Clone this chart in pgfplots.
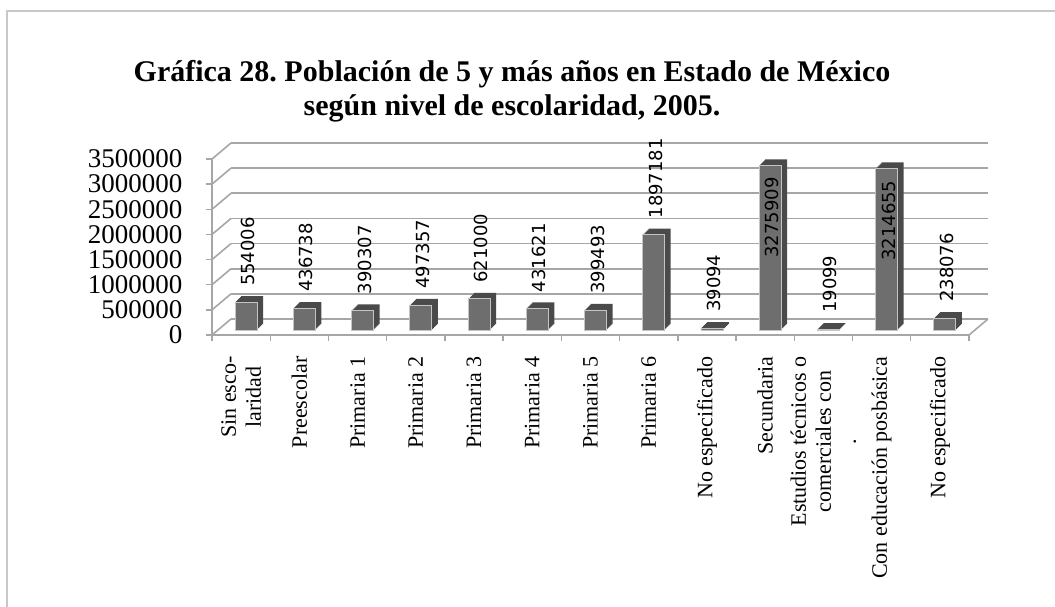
\documentclass[border=0pt]{standalone}
\usepackage{pgfplots}
\usepackage{pgfplotstable}
\pgfplotsset{compat=1.18}
\usepackage{fontspec}
\setmainfont{Liberation Serif}
\newfontfamily\labfont{DejaVu Sans}
\definecolor{frontc}{HTML}{6E6E6E}
\definecolor{sidec}{HTML}{4A4A4A}
\definecolor{edgec}{HTML}{C4C4C4}
\definecolor{gridc}{HTML}{A6A6A6}
\definecolor{framec}{HTML}{C8C8C8}
\pgfplotstableread{
x y
0.5 554006
1.5 436738
2.5 390307
3.5 497357
4.5 621000
5.5 431621
6.5 399493
7.5 1897181
8.5 39094
9.5 3275909
10.5 19099
11.5 3214655
12.5 238076
}\datatab
\begin{document}
\frenchspacing
\begin{tikzpicture}[x=1pt,y=1pt]
\useasboundingbox (0pt,0pt) rectangle (1055pt,-607pt);
\draw[framec, line width=2pt] (7pt,-607pt) -- (7pt,-11pt) -- (1055pt,-11pt);
\node[font=\bfseries\fontsize{30}{34}\selectfont, align=center] at (512pt,-91pt)
  {Gráfica 28. Población de 5 y más años en Estado de México\\según nivel de escolaridad, 2005.};
% back wall with gridlines
\begin{axis}[at={(231pt,-319pt)}, anchor=south west, width=757pt, height=176pt,
  scale only axis, xmin=0, xmax=13, ymin=0, ymax=3500000, scaled y ticks=false,
  axis line style={draw=none}, tick style={draw=none},
  xtick=\empty, ytick={0,500000,1000000,1500000,2000000,2500000,3000000,3500000},
  yticklabels={}, ymajorgrids, grid style={gridc, line width=1.6pt}]
\end{axis}
% side wall diagonals and floor edge
\foreach \k in {0,...,7} {
  \draw[gridc, line width=1.6pt] (212pt,{(-335+176/7*\k)*1pt}) -- (231pt,{(-319+176/7*\k)*1pt});
}
\draw[gridc, line width=1.6pt] (969pt,-335pt) -- (988pt,-319pt);
% bars at mid depth
\begin{axis}[at={(217pt,-330pt)}, anchor=south west, width=757pt, height=176pt,
  scale only axis, xmin=0, xmax=13, ymin=0, ymax=3500000, hide axis, clip=false]
\pgfplotsinvokeforeach{1,2,3,4,5,6}{
  \addplot[ybar, bar width=22pt, fill=sidec, draw=none, xshift=#1pt, yshift=#1pt] table[x=x,y=y] {\datatab};
}
\addplot[ybar, bar width=22pt, fill=frontc, draw=edgec, line width=0.8pt] table[x=x,y=y] {\datatab};
\addplot[draw=none, point meta=explicit symbolic, nodes near coords,
  skip coords between index={9}{10}, skip coords between index={11}{12},
  every node near coord/.append style={rotate=90, anchor=west, inner xsep=16pt, inner ysep=0pt,
    xshift=0pt, yshift=-2pt, font=\labfont\fontsize{18}{20}\selectfont, text=black}]
  table[x=x,y=y,meta=y] {\datatab};
\end{axis}
\begin{axis}[at={(217pt,-330pt)}, anchor=south west, width=757pt, height=176pt,
  scale only axis, xmin=0, xmax=13, ymin=0, ymax=3500000, hide axis, clip=false]
\addplot[draw=none, point meta=explicit symbolic, nodes near coords,
  skip coords between index={0}{9}, skip coords between index={10}{11}, skip coords between index={12}{13},
  every node near coord/.append style={rotate=90, anchor=east, inner xsep=12pt, inner ysep=0pt,
    yshift=-2pt, font=\labfont\fontsize{18}{20}\selectfont, text=black}]
  table[x=x,y=y,meta=y] {\datatab};
\end{axis}
% front axis with ticks and labels
\begin{axis}[at={(212pt,-335pt)}, anchor=south west, width=757pt, height=176pt,
  scale only axis, xmin=0, xmax=13, ymin=0, ymax=3500000, scaled y ticks=false,
  axis x line*=bottom, axis y line*=left, axis line style={-, gridc, line width=1.6pt},
  tick style={gridc, line width=1.4pt}, tick align=outside, major tick length=6pt,
  ytick={0,500000,1000000,1500000,2000000,2500000,3000000,3500000},
  yticklabels={0,500000,1000000,1500000,2000000,2500000,3000000,3500000},
  yticklabel style={font=\fontsize{27}{27}\selectfont, text=black, anchor=east, xshift=-20pt},
  xtick={0,...,13}, x tick label as interval, xticklabel shift=12pt,
  xticklabels={{Sin esco-\\laridad},Preescolar,Primaria 1,Primaria 2,Primaria 3,Primaria 4,Primaria 5,Primaria 6,No especificado,Secundaria,{Estudios técnicos o\\comerciales con\\.},Con educación posbásica,No especificado},
  xticklabel style={rotate=90, anchor=east, align=center, font=\fontsize{22}{25}\selectfont, text=black}]
\end{axis}
\end{tikzpicture}
\end{document}
